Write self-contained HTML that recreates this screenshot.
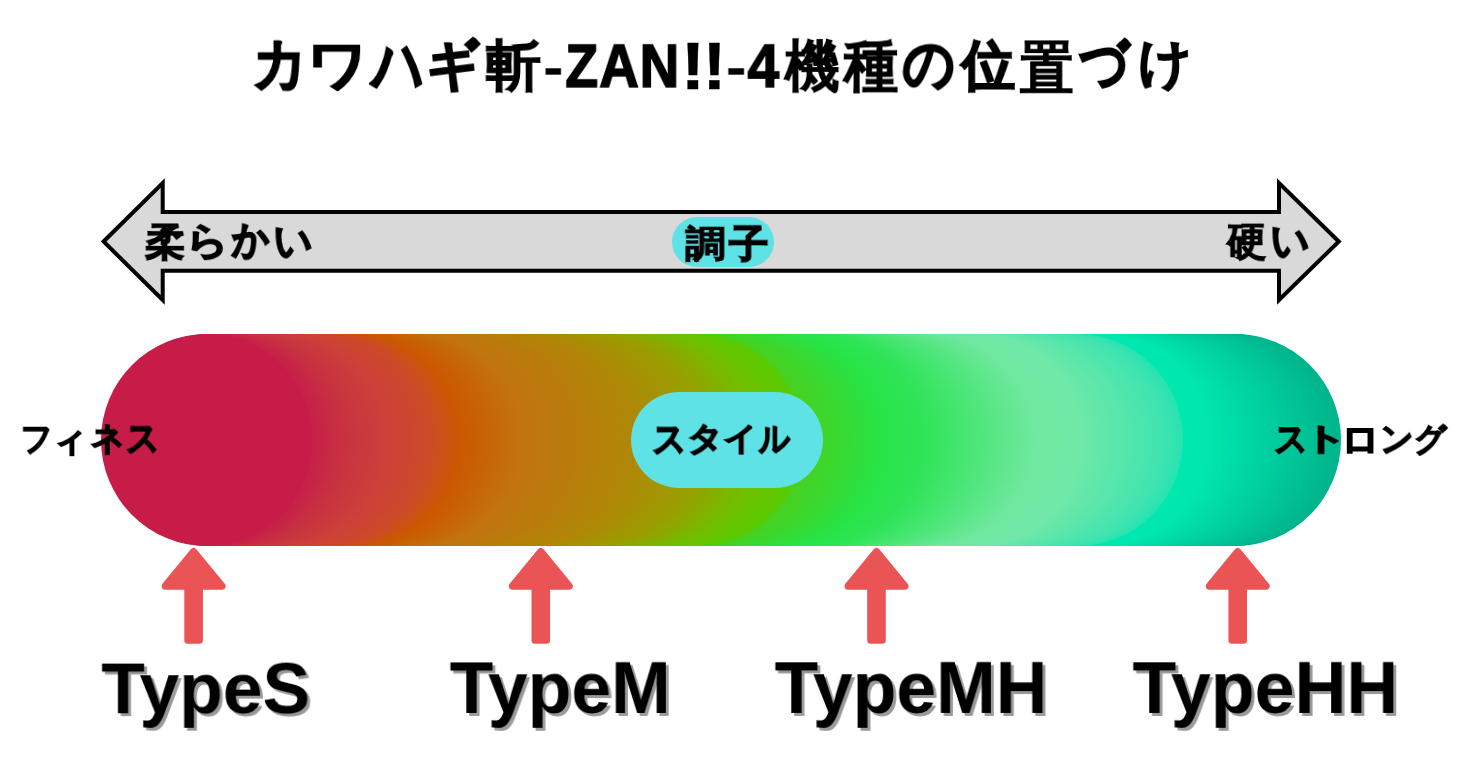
<!DOCTYPE html>
<html lang="ja"><head><meta charset="utf-8">
<style>
html,body{margin:0;padding:0;background:#fff;}
body{width:1475px;height:778px;position:relative;overflow:hidden;font-family:"Liberation Sans",sans-serif;color:#000;}
svg{position:absolute;left:0;top:0;}
.t,.lbl{position:absolute;white-space:nowrap;font-weight:bold;line-height:1;transform-origin:0 0;will-change:transform;}
.k{-webkit-text-stroke:2px #000;}
.k2{-webkit-text-stroke:1.8px #000;}
.k3{-webkit-text-stroke:1.5px #000;}
.kl{-webkit-text-stroke:1.6px #000;}
.lbl{text-shadow:3px 3px 0 #9a9a9a;}
</style></head><body>
<svg width="1475" height="778" viewBox="0 0 1475 778">
<polygon points="103.6,241.5 162.7,183 162.7,212 1279,212 1279,183 1338.8,241.5 1279,300 1279,270.8 162.7,270.8 162.7,300" fill="#d9d9d9" stroke="#000" stroke-width="4" stroke-linejoin="miter" stroke-miterlimit="10"/>
<rect x="672" y="217" width="102" height="50" rx="25" ry="25" fill="#5ee2e6"/>
<g>
<circle cx="1235" cy="440" r="106" fill="#00b48c"/>
<circle cx="1233" cy="440" r="106" fill="#00b58d"/>
<circle cx="1231" cy="440" r="106" fill="#00b68d"/>
<circle cx="1229" cy="440" r="106" fill="#00b68e"/>
<circle cx="1227" cy="440" r="106" fill="#00b78e"/>
<circle cx="1225" cy="440" r="106" fill="#00b88f"/>
<circle cx="1223" cy="440" r="106" fill="#00b98f"/>
<circle cx="1221" cy="440" r="106" fill="#00b990"/>
<circle cx="1219" cy="440" r="106" fill="#00ba90"/>
<circle cx="1217" cy="440" r="106" fill="#00bb91"/>
<circle cx="1215" cy="440" r="106" fill="#00bc91"/>
<circle cx="1213" cy="440" r="106" fill="#00bc92"/>
<circle cx="1211" cy="440" r="106" fill="#00bd92"/>
<circle cx="1209" cy="440" r="106" fill="#00be93"/>
<circle cx="1207" cy="440" r="106" fill="#00bf93"/>
<circle cx="1205" cy="440" r="106" fill="#00c094"/>
<circle cx="1203" cy="440" r="106" fill="#00c095"/>
<circle cx="1201" cy="440" r="106" fill="#00c195"/>
<circle cx="1199" cy="440" r="106" fill="#00c296"/>
<circle cx="1197" cy="440" r="106" fill="#00c396"/>
<circle cx="1195" cy="440" r="106" fill="#00c397"/>
<circle cx="1193" cy="440" r="106" fill="#00c497"/>
<circle cx="1191" cy="440" r="106" fill="#00c598"/>
<circle cx="1189" cy="440" r="106" fill="#00c698"/>
<circle cx="1187" cy="440" r="106" fill="#00c699"/>
<circle cx="1185" cy="440" r="106" fill="#00c799"/>
<circle cx="1183" cy="440" r="106" fill="#00c89a"/>
<circle cx="1181" cy="440" r="106" fill="#00c99a"/>
<circle cx="1179" cy="440" r="106" fill="#00ca9b"/>
<circle cx="1177" cy="440" r="106" fill="#00ca9b"/>
<circle cx="1175" cy="440" r="106" fill="#00cb9c"/>
<circle cx="1173" cy="440" r="106" fill="#00cc9d"/>
<circle cx="1171" cy="440" r="106" fill="#00cd9d"/>
<circle cx="1169" cy="440" r="106" fill="#00cd9e"/>
<circle cx="1167" cy="440" r="106" fill="#00ce9e"/>
<circle cx="1165" cy="440" r="106" fill="#00cf9f"/>
<circle cx="1163" cy="440" r="106" fill="#00d09f"/>
<circle cx="1161" cy="440" r="106" fill="#00d1a0"/>
<circle cx="1159" cy="440" r="106" fill="#00d1a0"/>
<circle cx="1157" cy="440" r="106" fill="#00d2a1"/>
<circle cx="1155" cy="440" r="106" fill="#00d3a1"/>
<circle cx="1153" cy="440" r="106" fill="#00d4a2"/>
<circle cx="1151" cy="440" r="106" fill="#00d4a2"/>
<circle cx="1149" cy="440" r="106" fill="#00d5a3"/>
<circle cx="1147" cy="440" r="106" fill="#00d6a3"/>
<circle cx="1145" cy="440" r="106" fill="#00d7a4"/>
<circle cx="1143" cy="440" r="106" fill="#00d7a5"/>
<circle cx="1141" cy="440" r="106" fill="#00d8a5"/>
<circle cx="1139" cy="440" r="106" fill="#00d9a6"/>
<circle cx="1137" cy="440" r="106" fill="#00daa6"/>
<circle cx="1135" cy="440" r="106" fill="#00dba7"/>
<circle cx="1133" cy="440" r="106" fill="#00dba7"/>
<circle cx="1131" cy="440" r="106" fill="#00dca8"/>
<circle cx="1129" cy="440" r="106" fill="#00dda8"/>
<circle cx="1127" cy="440" r="106" fill="#00dea9"/>
<circle cx="1125" cy="440" r="106" fill="#00dea9"/>
<circle cx="1123" cy="440" r="106" fill="#00dfaa"/>
<circle cx="1121" cy="440" r="106" fill="#00e0aa"/>
<circle cx="1119" cy="440" r="106" fill="#00e1ab"/>
<circle cx="1117" cy="440" r="106" fill="#00e1ab"/>
<circle cx="1115" cy="440" r="106" fill="#00e2ac"/>
<circle cx="1113" cy="440" r="106" fill="#00e3ad"/>
<circle cx="1111" cy="440" r="106" fill="#00e4ad"/>
<circle cx="1109" cy="440" r="106" fill="#00e5ae"/>
<circle cx="1107" cy="440" r="106" fill="#00e5ae"/>
<circle cx="1105" cy="440" r="106" fill="#00e6af"/>
<circle cx="1103" cy="440" r="106" fill="#00e7af"/>
<circle cx="1101" cy="440" r="106" fill="#00e8b0"/>
<circle cx="1099" cy="440" r="106" fill="#00e8b0"/>
<circle cx="1097" cy="440" r="106" fill="#00e8b0"/>
<circle cx="1095" cy="440" r="106" fill="#00e8b0"/>
<circle cx="1093" cy="440" r="106" fill="#00e8b0"/>
<circle cx="1091" cy="440" r="106" fill="#00e8b0"/>
<circle cx="1089" cy="440" r="106" fill="#00e8b0"/>
<circle cx="1087" cy="440" r="106" fill="#00e8b0"/>
<circle cx="1085" cy="440" r="106" fill="#00e8b0"/>
<circle cx="1083" cy="440" r="106" fill="#00e8b0"/>
<circle cx="1081" cy="440" r="106" fill="#00e8b0"/>
<circle cx="1079" cy="440" r="106" fill="#00e8b0"/>
<circle cx="1077" cy="440" r="106" fill="#28e4b0"/>
<circle cx="1075" cy="440" r="106" fill="#2be4b0"/>
<circle cx="1073" cy="440" r="106" fill="#2de4b0"/>
<circle cx="1071" cy="440" r="106" fill="#30e4b0"/>
<circle cx="1069" cy="440" r="106" fill="#32e4b0"/>
<circle cx="1067" cy="440" r="106" fill="#35e4b0"/>
<circle cx="1065" cy="440" r="106" fill="#37e4b0"/>
<circle cx="1063" cy="440" r="106" fill="#3ae4b0"/>
<circle cx="1061" cy="440" r="106" fill="#3ce4b0"/>
<circle cx="1059" cy="440" r="106" fill="#3fe4b0"/>
<circle cx="1057" cy="440" r="106" fill="#41e4b0"/>
<circle cx="1055" cy="440" r="106" fill="#42e4b0"/>
<circle cx="1053" cy="440" r="106" fill="#43e4b0"/>
<circle cx="1051" cy="440" r="106" fill="#44e4af"/>
<circle cx="1049" cy="440" r="106" fill="#45e4af"/>
<circle cx="1047" cy="440" r="106" fill="#46e5af"/>
<circle cx="1045" cy="440" r="106" fill="#48e5af"/>
<circle cx="1043" cy="440" r="106" fill="#49e5af"/>
<circle cx="1041" cy="440" r="106" fill="#4ae5ae"/>
<circle cx="1039" cy="440" r="106" fill="#4be5ae"/>
<circle cx="1037" cy="440" r="106" fill="#4ce5ae"/>
<circle cx="1035" cy="440" r="106" fill="#4de5ae"/>
<circle cx="1033" cy="440" r="106" fill="#4ee5ae"/>
<circle cx="1031" cy="440" r="106" fill="#50e5ad"/>
<circle cx="1029" cy="440" r="106" fill="#51e5ad"/>
<circle cx="1027" cy="440" r="106" fill="#52e5ad"/>
<circle cx="1025" cy="440" r="106" fill="#53e6ad"/>
<circle cx="1023" cy="440" r="106" fill="#54e6ad"/>
<circle cx="1021" cy="440" r="106" fill="#55e6ac"/>
<circle cx="1019" cy="440" r="106" fill="#57e6ac"/>
<circle cx="1017" cy="440" r="106" fill="#58e6ac"/>
<circle cx="1015" cy="440" r="106" fill="#59e6ac"/>
<circle cx="1013" cy="440" r="106" fill="#5ae6ac"/>
<circle cx="1011" cy="440" r="106" fill="#5be6ab"/>
<circle cx="1009" cy="440" r="106" fill="#5ce6ab"/>
<circle cx="1007" cy="440" r="106" fill="#5de6ab"/>
<circle cx="1005" cy="440" r="106" fill="#5fe7ab"/>
<circle cx="1003" cy="440" r="106" fill="#60e7ab"/>
<circle cx="1001" cy="440" r="106" fill="#61e7ab"/>
<circle cx="999" cy="440" r="106" fill="#62e7aa"/>
<circle cx="997" cy="440" r="106" fill="#63e7aa"/>
<circle cx="995" cy="440" r="106" fill="#64e7aa"/>
<circle cx="993" cy="440" r="106" fill="#66e7aa"/>
<circle cx="991" cy="440" r="106" fill="#67e7aa"/>
<circle cx="989" cy="440" r="106" fill="#68e7a9"/>
<circle cx="987" cy="440" r="106" fill="#69e7a9"/>
<circle cx="985" cy="440" r="106" fill="#6ae8a9"/>
<circle cx="983" cy="440" r="106" fill="#6be8a9"/>
<circle cx="981" cy="440" r="106" fill="#6de8a9"/>
<circle cx="979" cy="440" r="106" fill="#6ee8a8"/>
<circle cx="977" cy="440" r="106" fill="#6fe8a8"/>
<circle cx="975" cy="440" r="106" fill="#70e8a8"/>
<circle cx="973" cy="440" r="106" fill="#70e8a8"/>
<circle cx="971" cy="440" r="106" fill="#70e8a7"/>
<circle cx="969" cy="440" r="106" fill="#70e8a7"/>
<circle cx="967" cy="440" r="106" fill="#70e8a7"/>
<circle cx="965" cy="440" r="106" fill="#70e8a6"/>
<circle cx="963" cy="440" r="106" fill="#70e8a6"/>
<circle cx="961" cy="440" r="106" fill="#70e8a6"/>
<circle cx="959" cy="440" r="106" fill="#70e8a5"/>
<circle cx="957" cy="440" r="106" fill="#70e8a5"/>
<circle cx="955" cy="440" r="106" fill="#70e8a4"/>
<circle cx="953" cy="440" r="106" fill="#70e8a4"/>
<circle cx="951" cy="440" r="106" fill="#70e8a4"/>
<circle cx="949" cy="440" r="106" fill="#70e8a3"/>
<circle cx="947" cy="440" r="106" fill="#70e8a3"/>
<circle cx="945" cy="440" r="106" fill="#70e8a3"/>
<circle cx="943" cy="440" r="106" fill="#70e8a2"/>
<circle cx="941" cy="440" r="106" fill="#70e8a2"/>
<circle cx="939" cy="440" r="106" fill="#70e8a2"/>
<circle cx="937" cy="440" r="106" fill="#70e8a1"/>
<circle cx="935" cy="440" r="106" fill="#70e8a1"/>
<circle cx="933" cy="440" r="106" fill="#70e8a1"/>
<circle cx="931" cy="440" r="106" fill="#70e8a0"/>
<circle cx="929" cy="440" r="106" fill="#6fe89f"/>
<circle cx="927" cy="440" r="106" fill="#6ee89e"/>
<circle cx="925" cy="440" r="106" fill="#6de89d"/>
<circle cx="923" cy="440" r="106" fill="#6ce89b"/>
<circle cx="921" cy="440" r="106" fill="#6be89a"/>
<circle cx="919" cy="440" r="106" fill="#6ae899"/>
<circle cx="917" cy="440" r="106" fill="#68e897"/>
<circle cx="915" cy="440" r="106" fill="#67e796"/>
<circle cx="913" cy="440" r="106" fill="#66e795"/>
<circle cx="911" cy="440" r="106" fill="#65e794"/>
<circle cx="909" cy="440" r="106" fill="#64e792"/>
<circle cx="907" cy="440" r="106" fill="#63e791"/>
<circle cx="905" cy="440" r="106" fill="#61e790"/>
<circle cx="903" cy="440" r="106" fill="#60e78e"/>
<circle cx="901" cy="440" r="106" fill="#5fe78d"/>
<circle cx="899" cy="440" r="106" fill="#5ee78c"/>
<circle cx="897" cy="440" r="106" fill="#5de78a"/>
<circle cx="895" cy="440" r="106" fill="#5ce789"/>
<circle cx="893" cy="440" r="106" fill="#5ae788"/>
<circle cx="891" cy="440" r="106" fill="#59e786"/>
<circle cx="889" cy="440" r="106" fill="#58e785"/>
<circle cx="887" cy="440" r="106" fill="#57e684"/>
<circle cx="885" cy="440" r="106" fill="#56e683"/>
<circle cx="883" cy="440" r="106" fill="#55e681"/>
<circle cx="881" cy="440" r="106" fill="#53e680"/>
<circle cx="879" cy="440" r="106" fill="#52e67f"/>
<circle cx="877" cy="440" r="106" fill="#51e67d"/>
<circle cx="875" cy="440" r="106" fill="#50e67c"/>
<circle cx="873" cy="440" r="106" fill="#4fe67b"/>
<circle cx="871" cy="440" r="106" fill="#4ee679"/>
<circle cx="869" cy="440" r="106" fill="#4de678"/>
<circle cx="867" cy="440" r="106" fill="#4be677"/>
<circle cx="865" cy="440" r="106" fill="#4ae675"/>
<circle cx="863" cy="440" r="106" fill="#49e674"/>
<circle cx="861" cy="440" r="106" fill="#48e573"/>
<circle cx="859" cy="440" r="106" fill="#47e572"/>
<circle cx="857" cy="440" r="106" fill="#46e570"/>
<circle cx="855" cy="440" r="106" fill="#44e56f"/>
<circle cx="853" cy="440" r="106" fill="#43e56e"/>
<circle cx="851" cy="440" r="106" fill="#42e56c"/>
<circle cx="849" cy="440" r="106" fill="#41e56b"/>
<circle cx="847" cy="440" r="106" fill="#40e56a"/>
<circle cx="845" cy="440" r="106" fill="#3fe568"/>
<circle cx="843" cy="440" r="106" fill="#3de567"/>
<circle cx="841" cy="440" r="106" fill="#3ce566"/>
<circle cx="839" cy="440" r="106" fill="#3be564"/>
<circle cx="837" cy="440" r="106" fill="#3ae563"/>
<circle cx="835" cy="440" r="106" fill="#39e562"/>
<circle cx="833" cy="440" r="106" fill="#38e461"/>
<circle cx="831" cy="440" r="106" fill="#36e45f"/>
<circle cx="829" cy="440" r="106" fill="#35e45e"/>
<circle cx="827" cy="440" r="106" fill="#34e45d"/>
<circle cx="825" cy="440" r="106" fill="#33e45b"/>
<circle cx="823" cy="440" r="106" fill="#32e45a"/>
<circle cx="821" cy="440" r="106" fill="#31e459"/>
<circle cx="819" cy="440" r="106" fill="#30e458"/>
<circle cx="817" cy="440" r="106" fill="#2fe457"/>
<circle cx="815" cy="440" r="106" fill="#2fe456"/>
<circle cx="813" cy="440" r="106" fill="#2fe455"/>
<circle cx="811" cy="440" r="106" fill="#2ee455"/>
<circle cx="809" cy="440" r="106" fill="#2ee454"/>
<circle cx="807" cy="440" r="106" fill="#2ee453"/>
<circle cx="805" cy="440" r="106" fill="#2de452"/>
<circle cx="803" cy="440" r="106" fill="#2de452"/>
<circle cx="801" cy="440" r="106" fill="#2ce451"/>
<circle cx="799" cy="440" r="106" fill="#2ce450"/>
<circle cx="797" cy="440" r="106" fill="#2ce44f"/>
<circle cx="795" cy="440" r="106" fill="#2be44e"/>
<circle cx="793" cy="440" r="106" fill="#2be44e"/>
<circle cx="791" cy="440" r="106" fill="#2ae44d"/>
<circle cx="789" cy="440" r="106" fill="#2ae44c"/>
<circle cx="787" cy="440" r="106" fill="#2ae44b"/>
<circle cx="785" cy="440" r="106" fill="#29e44b"/>
<circle cx="783" cy="440" r="106" fill="#29e44a"/>
<circle cx="781" cy="440" r="106" fill="#29e449"/>
<circle cx="779" cy="440" r="106" fill="#28e448"/>
<circle cx="777" cy="440" r="106" fill="#28e447"/>
<circle cx="775" cy="440" r="106" fill="#29e346"/>
<circle cx="773" cy="440" r="106" fill="#2ae345"/>
<circle cx="771" cy="440" r="106" fill="#2be244"/>
<circle cx="769" cy="440" r="106" fill="#2ce243"/>
<circle cx="767" cy="440" r="106" fill="#2ce142"/>
<circle cx="765" cy="440" r="106" fill="#2de141"/>
<circle cx="763" cy="440" r="106" fill="#2ee040"/>
<circle cx="761" cy="440" r="106" fill="#2fe03f"/>
<circle cx="759" cy="440" r="106" fill="#30df3e"/>
<circle cx="757" cy="440" r="106" fill="#31df3d"/>
<circle cx="755" cy="440" r="106" fill="#31de3c"/>
<circle cx="753" cy="440" r="106" fill="#32de3b"/>
<circle cx="751" cy="440" r="106" fill="#33dd3a"/>
<circle cx="749" cy="440" r="106" fill="#34dd39"/>
<circle cx="747" cy="440" r="106" fill="#35dc38"/>
<circle cx="745" cy="440" r="106" fill="#35dc37"/>
<circle cx="743" cy="440" r="106" fill="#36db36"/>
<circle cx="741" cy="440" r="106" fill="#37db35"/>
<circle cx="739" cy="440" r="106" fill="#38da34"/>
<circle cx="737" cy="440" r="106" fill="#39da33"/>
<circle cx="735" cy="440" r="106" fill="#39d932"/>
<circle cx="733" cy="440" r="106" fill="#3ad931"/>
<circle cx="731" cy="440" r="106" fill="#3bd830"/>
<circle cx="729" cy="440" r="106" fill="#3cd82f"/>
<circle cx="727" cy="440" r="106" fill="#3dd72e"/>
<circle cx="725" cy="440" r="106" fill="#3dd72d"/>
<circle cx="723" cy="440" r="106" fill="#3ed62c"/>
<circle cx="721" cy="440" r="106" fill="#3fd62b"/>
<circle cx="719" cy="440" r="106" fill="#40d52a"/>
<circle cx="717" cy="440" r="106" fill="#41d529"/>
<circle cx="715" cy="440" r="106" fill="#42d428"/>
<circle cx="713" cy="440" r="106" fill="#42d427"/>
<circle cx="711" cy="440" r="106" fill="#43d326"/>
<circle cx="709" cy="440" r="106" fill="#44d325"/>
<circle cx="707" cy="440" r="106" fill="#45d224"/>
<circle cx="705" cy="440" r="106" fill="#46d223"/>
<circle cx="703" cy="440" r="106" fill="#46d122"/>
<circle cx="701" cy="440" r="106" fill="#47d121"/>
<circle cx="699" cy="440" r="106" fill="#48d020"/>
<circle cx="697" cy="440" r="106" fill="#59cc00"/>
<circle cx="695" cy="440" r="106" fill="#5acb00"/>
<circle cx="693" cy="440" r="106" fill="#5bcb00"/>
<circle cx="691" cy="440" r="106" fill="#5cca00"/>
<circle cx="689" cy="440" r="106" fill="#5dca00"/>
<circle cx="687" cy="440" r="106" fill="#5ec900"/>
<circle cx="685" cy="440" r="106" fill="#5fc900"/>
<circle cx="683" cy="440" r="106" fill="#60c800"/>
<circle cx="681" cy="440" r="106" fill="#61c700"/>
<circle cx="679" cy="440" r="106" fill="#62c700"/>
<circle cx="677" cy="440" r="106" fill="#63c600"/>
<circle cx="675" cy="440" r="106" fill="#64c600"/>
<circle cx="673" cy="440" r="106" fill="#65c500"/>
<circle cx="671" cy="440" r="106" fill="#66c500"/>
<circle cx="669" cy="440" r="106" fill="#67c400"/>
<circle cx="667" cy="440" r="106" fill="#69c400"/>
<circle cx="665" cy="440" r="106" fill="#6ac300"/>
<circle cx="663" cy="440" r="106" fill="#6bc300"/>
<circle cx="661" cy="440" r="106" fill="#6cc200"/>
<circle cx="659" cy="440" r="106" fill="#6dc200"/>
<circle cx="657" cy="440" r="106" fill="#6ec100"/>
<circle cx="655" cy="440" r="106" fill="#6fc100"/>
<circle cx="653" cy="440" r="106" fill="#70c000"/>
<circle cx="651" cy="440" r="106" fill="#71bf00"/>
<circle cx="649" cy="440" r="106" fill="#73be00"/>
<circle cx="647" cy="440" r="106" fill="#74bd00"/>
<circle cx="645" cy="440" r="106" fill="#76bb00"/>
<circle cx="643" cy="440" r="106" fill="#77ba00"/>
<circle cx="641" cy="440" r="106" fill="#79b900"/>
<circle cx="639" cy="440" r="106" fill="#7ab800"/>
<circle cx="637" cy="440" r="106" fill="#7bb700"/>
<circle cx="635" cy="440" r="106" fill="#7db600"/>
<circle cx="633" cy="440" r="106" fill="#7eb500"/>
<circle cx="631" cy="440" r="106" fill="#80b300"/>
<circle cx="629" cy="440" r="106" fill="#81b200"/>
<circle cx="627" cy="440" r="106" fill="#83b100"/>
<circle cx="625" cy="440" r="106" fill="#84b000"/>
<circle cx="623" cy="440" r="106" fill="#85af00"/>
<circle cx="621" cy="440" r="106" fill="#87ae00"/>
<circle cx="619" cy="440" r="106" fill="#88ad00"/>
<circle cx="617" cy="440" r="106" fill="#8aab00"/>
<circle cx="615" cy="440" r="106" fill="#8baa00"/>
<circle cx="613" cy="440" r="106" fill="#8da900"/>
<circle cx="611" cy="440" r="106" fill="#8ea800"/>
<circle cx="609" cy="440" r="106" fill="#8fa700"/>
<circle cx="607" cy="440" r="106" fill="#91a600"/>
<circle cx="605" cy="440" r="106" fill="#92a500"/>
<circle cx="603" cy="440" r="106" fill="#94a300"/>
<circle cx="601" cy="440" r="106" fill="#95a200"/>
<circle cx="599" cy="440" r="106" fill="#97a100"/>
<circle cx="597" cy="440" r="106" fill="#98a000"/>
<circle cx="595" cy="440" r="106" fill="#999f00"/>
<circle cx="593" cy="440" r="106" fill="#999f00"/>
<circle cx="591" cy="440" r="106" fill="#9a9e01"/>
<circle cx="589" cy="440" r="106" fill="#9b9d01"/>
<circle cx="587" cy="440" r="106" fill="#9c9c01"/>
<circle cx="585" cy="440" r="106" fill="#9c9c01"/>
<circle cx="583" cy="440" r="106" fill="#9d9b02"/>
<circle cx="581" cy="440" r="106" fill="#9e9a02"/>
<circle cx="579" cy="440" r="106" fill="#9e9a02"/>
<circle cx="577" cy="440" r="106" fill="#9f9902"/>
<circle cx="575" cy="440" r="106" fill="#a09803"/>
<circle cx="573" cy="440" r="106" fill="#a19703"/>
<circle cx="571" cy="440" r="106" fill="#a19703"/>
<circle cx="569" cy="440" r="106" fill="#a29603"/>
<circle cx="567" cy="440" r="106" fill="#a39504"/>
<circle cx="565" cy="440" r="106" fill="#a39504"/>
<circle cx="563" cy="440" r="106" fill="#a49404"/>
<circle cx="561" cy="440" r="106" fill="#a59304"/>
<circle cx="559" cy="440" r="106" fill="#a69205"/>
<circle cx="557" cy="440" r="106" fill="#a69205"/>
<circle cx="555" cy="440" r="106" fill="#a79105"/>
<circle cx="553" cy="440" r="106" fill="#a89005"/>
<circle cx="551" cy="440" r="106" fill="#a89005"/>
<circle cx="549" cy="440" r="106" fill="#a98f06"/>
<circle cx="547" cy="440" r="106" fill="#aa8e06"/>
<circle cx="545" cy="440" r="106" fill="#ab8d06"/>
<circle cx="543" cy="440" r="106" fill="#ab8d06"/>
<circle cx="541" cy="440" r="106" fill="#ac8c07"/>
<circle cx="539" cy="440" r="106" fill="#ad8b07"/>
<circle cx="537" cy="440" r="106" fill="#ad8b07"/>
<circle cx="535" cy="440" r="106" fill="#ae8a07"/>
<circle cx="533" cy="440" r="106" fill="#af8908"/>
<circle cx="531" cy="440" r="106" fill="#b08808"/>
<circle cx="529" cy="440" r="106" fill="#b08808"/>
<circle cx="527" cy="440" r="106" fill="#b08708"/>
<circle cx="525" cy="440" r="106" fill="#b18708"/>
<circle cx="523" cy="440" r="106" fill="#b18708"/>
<circle cx="521" cy="440" r="106" fill="#b18609"/>
<circle cx="519" cy="440" r="106" fill="#b28609"/>
<circle cx="517" cy="440" r="106" fill="#b28609"/>
<circle cx="515" cy="440" r="106" fill="#b28509"/>
<circle cx="513" cy="440" r="106" fill="#b38509"/>
<circle cx="511" cy="440" r="106" fill="#b38509"/>
<circle cx="509" cy="440" r="106" fill="#b3840a"/>
<circle cx="507" cy="440" r="106" fill="#b4840a"/>
<circle cx="505" cy="440" r="106" fill="#b4840a"/>
<circle cx="503" cy="440" r="106" fill="#b4830a"/>
<circle cx="501" cy="440" r="106" fill="#b5830a"/>
<circle cx="499" cy="440" r="106" fill="#b5820a"/>
<circle cx="497" cy="440" r="106" fill="#b5820a"/>
<circle cx="495" cy="440" r="106" fill="#b6820a"/>
<circle cx="493" cy="440" r="106" fill="#b6810b"/>
<circle cx="491" cy="440" r="106" fill="#b6810b"/>
<circle cx="489" cy="440" r="106" fill="#b7810b"/>
<circle cx="487" cy="440" r="106" fill="#b7800b"/>
<circle cx="485" cy="440" r="106" fill="#b7800b"/>
<circle cx="483" cy="440" r="106" fill="#b8800b"/>
<circle cx="481" cy="440" r="106" fill="#b87f0c"/>
<circle cx="479" cy="440" r="106" fill="#b87f0c"/>
<circle cx="477" cy="440" r="106" fill="#b97f0c"/>
<circle cx="475" cy="440" r="106" fill="#b97e0c"/>
<circle cx="473" cy="440" r="106" fill="#b97e0c"/>
<circle cx="471" cy="440" r="106" fill="#b97d0c"/>
<circle cx="469" cy="440" r="106" fill="#ba7d0c"/>
<circle cx="467" cy="440" r="106" fill="#ba7d0c"/>
<circle cx="465" cy="440" r="106" fill="#ba7c0d"/>
<circle cx="463" cy="440" r="106" fill="#bb7c0d"/>
<circle cx="461" cy="440" r="106" fill="#bb7c0d"/>
<circle cx="459" cy="440" r="106" fill="#bb7b0d"/>
<circle cx="457" cy="440" r="106" fill="#bc7b0d"/>
<circle cx="455" cy="440" r="106" fill="#bc7b0d"/>
<circle cx="453" cy="440" r="106" fill="#bc7a0e"/>
<circle cx="451" cy="440" r="106" fill="#bd7a0e"/>
<circle cx="449" cy="440" r="106" fill="#bd7a0e"/>
<circle cx="447" cy="440" r="106" fill="#bd790e"/>
<circle cx="445" cy="440" r="106" fill="#be790e"/>
<circle cx="443" cy="440" r="106" fill="#be780e"/>
<circle cx="441" cy="440" r="106" fill="#be780e"/>
<circle cx="439" cy="440" r="106" fill="#bf780e"/>
<circle cx="437" cy="440" r="106" fill="#bf770f"/>
<circle cx="435" cy="440" r="106" fill="#bf770f"/>
<circle cx="433" cy="440" r="106" fill="#c0770f"/>
<circle cx="431" cy="440" r="106" fill="#c0760f"/>
<circle cx="429" cy="440" r="106" fill="#c0760f"/>
<circle cx="427" cy="440" r="106" fill="#c1760f"/>
<circle cx="425" cy="440" r="106" fill="#c17510"/>
<circle cx="423" cy="440" r="106" fill="#c17510"/>
<circle cx="421" cy="440" r="106" fill="#c27510"/>
<circle cx="419" cy="440" r="106" fill="#c27410"/>
<circle cx="417" cy="440" r="106" fill="#c27410"/>
<circle cx="415" cy="440" r="106" fill="#c2730f"/>
<circle cx="413" cy="440" r="106" fill="#c3720f"/>
<circle cx="411" cy="440" r="106" fill="#c3710e"/>
<circle cx="409" cy="440" r="106" fill="#c3700e"/>
<circle cx="407" cy="440" r="106" fill="#c46f0d"/>
<circle cx="405" cy="440" r="106" fill="#c46e0d"/>
<circle cx="403" cy="440" r="106" fill="#c46d0c"/>
<circle cx="401" cy="440" r="106" fill="#c56c0c"/>
<circle cx="399" cy="440" r="106" fill="#c56c0b"/>
<circle cx="397" cy="440" r="106" fill="#c56b0b"/>
<circle cx="395" cy="440" r="106" fill="#c66a0a"/>
<circle cx="393" cy="440" r="106" fill="#c6690a"/>
<circle cx="391" cy="440" r="106" fill="#c66809"/>
<circle cx="389" cy="440" r="106" fill="#c76709"/>
<circle cx="387" cy="440" r="106" fill="#c76608"/>
<circle cx="385" cy="440" r="106" fill="#c76508"/>
<circle cx="383" cy="440" r="106" fill="#c86407"/>
<circle cx="381" cy="440" r="106" fill="#c86407"/>
<circle cx="379" cy="440" r="106" fill="#c86306"/>
<circle cx="377" cy="440" r="106" fill="#c96206"/>
<circle cx="375" cy="440" r="106" fill="#c96105"/>
<circle cx="373" cy="440" r="106" fill="#c96005"/>
<circle cx="371" cy="440" r="106" fill="#c95f04"/>
<circle cx="369" cy="440" r="106" fill="#ca5e04"/>
<circle cx="367" cy="440" r="106" fill="#ca5d03"/>
<circle cx="365" cy="440" r="106" fill="#ca5c03"/>
<circle cx="363" cy="440" r="106" fill="#cb5c02"/>
<circle cx="361" cy="440" r="106" fill="#cb5b02"/>
<circle cx="359" cy="440" r="106" fill="#cb5a01"/>
<circle cx="357" cy="440" r="106" fill="#cc5901"/>
<circle cx="355" cy="440" r="106" fill="#cc5800"/>
<circle cx="353" cy="440" r="106" fill="#cc5703"/>
<circle cx="351" cy="440" r="106" fill="#cc5606"/>
<circle cx="349" cy="440" r="106" fill="#cc5608"/>
<circle cx="347" cy="440" r="106" fill="#cc550b"/>
<circle cx="345" cy="440" r="106" fill="#cc540e"/>
<circle cx="343" cy="440" r="106" fill="#cc5311"/>
<circle cx="341" cy="440" r="106" fill="#cc5213"/>
<circle cx="339" cy="440" r="106" fill="#cc5116"/>
<circle cx="337" cy="440" r="106" fill="#cc5119"/>
<circle cx="335" cy="440" r="106" fill="#cc501c"/>
<circle cx="333" cy="440" r="106" fill="#cc4f1e"/>
<circle cx="331" cy="440" r="106" fill="#cc4e21"/>
<circle cx="329" cy="440" r="106" fill="#cc4d24"/>
<circle cx="327" cy="440" r="106" fill="#cc4c27"/>
<circle cx="325" cy="440" r="106" fill="#cc4c28"/>
<circle cx="323" cy="440" r="106" fill="#cc4b29"/>
<circle cx="321" cy="440" r="106" fill="#cc4b2a"/>
<circle cx="319" cy="440" r="106" fill="#cc4a2b"/>
<circle cx="317" cy="440" r="106" fill="#cc4a2c"/>
<circle cx="315" cy="440" r="106" fill="#cc492d"/>
<circle cx="313" cy="440" r="106" fill="#cc492e"/>
<circle cx="311" cy="440" r="106" fill="#cc482f"/>
<circle cx="309" cy="440" r="106" fill="#cc482f"/>
<circle cx="307" cy="440" r="106" fill="#cc4730"/>
<circle cx="305" cy="440" r="106" fill="#cc4731"/>
<circle cx="303" cy="440" r="106" fill="#cc4632"/>
<circle cx="301" cy="440" r="106" fill="#cc4633"/>
<circle cx="299" cy="440" r="106" fill="#cc4534"/>
<circle cx="297" cy="440" r="106" fill="#cc4535"/>
<circle cx="295" cy="440" r="106" fill="#cc4436"/>
<circle cx="293" cy="440" r="106" fill="#cc4436"/>
<circle cx="291" cy="440" r="106" fill="#cc4337"/>
<circle cx="289" cy="440" r="106" fill="#cc4338"/>
<circle cx="287" cy="440" r="106" fill="#cc4239"/>
<circle cx="285" cy="440" r="106" fill="#cc423a"/>
<circle cx="283" cy="440" r="106" fill="#cc413a"/>
<circle cx="281" cy="440" r="106" fill="#cc413b"/>
<circle cx="279" cy="440" r="106" fill="#cb403b"/>
<circle cx="277" cy="440" r="106" fill="#cb3f3b"/>
<circle cx="275" cy="440" r="106" fill="#cb3f3b"/>
<circle cx="273" cy="440" r="106" fill="#cb3e3c"/>
<circle cx="271" cy="440" r="106" fill="#cb3d3c"/>
<circle cx="269" cy="440" r="106" fill="#cb3d3c"/>
<circle cx="267" cy="440" r="106" fill="#ca3c3d"/>
<circle cx="265" cy="440" r="106" fill="#ca3b3d"/>
<circle cx="263" cy="440" r="106" fill="#ca3b3d"/>
<circle cx="261" cy="440" r="106" fill="#ca3a3d"/>
<circle cx="259" cy="440" r="106" fill="#ca3a3e"/>
<circle cx="257" cy="440" r="106" fill="#c9393e"/>
<circle cx="255" cy="440" r="106" fill="#c9383e"/>
<circle cx="253" cy="440" r="106" fill="#c9383e"/>
<circle cx="251" cy="440" r="106" fill="#c9373f"/>
<circle cx="249" cy="440" r="106" fill="#c9363f"/>
<circle cx="247" cy="440" r="106" fill="#c8363f"/>
<circle cx="245" cy="440" r="106" fill="#c83540"/>
<circle cx="243" cy="440" r="106" fill="#c83440"/>
<circle cx="241" cy="440" r="106" fill="#c83340"/>
<circle cx="239" cy="440" r="106" fill="#c83241"/>
<circle cx="237" cy="440" r="106" fill="#c83141"/>
<circle cx="235" cy="440" r="106" fill="#c83042"/>
<circle cx="233" cy="440" r="106" fill="#c82f43"/>
<circle cx="231" cy="440" r="106" fill="#c82e43"/>
<circle cx="229" cy="440" r="106" fill="#c82c44"/>
<circle cx="227" cy="440" r="106" fill="#c82b44"/>
<circle cx="225" cy="440" r="106" fill="#c82a45"/>
<circle cx="223" cy="440" r="106" fill="#c82946"/>
<circle cx="221" cy="440" r="106" fill="#c82846"/>
<circle cx="219" cy="440" r="106" fill="#c82647"/>
<circle cx="217" cy="440" r="106" fill="#c82547"/>
<circle cx="215" cy="440" r="106" fill="#c82448"/>
<circle cx="213" cy="440" r="106" fill="#c82349"/>
<circle cx="211" cy="440" r="106" fill="#c82249"/>
<circle cx="209" cy="440" r="106" fill="#c8214a"/>
<circle cx="207" cy="440" r="106" fill="#c81c48"/>
</g>
<rect x="631" y="392" width="192" height="96" rx="48" ry="48" fill="#5ee2e6"/>
<g fill="#ea5455">
<path d="M193.60,551.66 L221.97,586.10 L199.30,586.10 L199.30,640.20 L187.90,640.20 L187.90,586.10 L165.23,586.10 Z" stroke="#ea5455" stroke-width="7.2" stroke-linejoin="round"/>
<path d="M540.80,551.66 L569.17,586.10 L546.50,586.10 L546.50,640.20 L535.10,640.20 L535.10,586.10 L512.43,586.10 Z" stroke="#ea5455" stroke-width="7.2" stroke-linejoin="round"/>
<path d="M876.50,551.66 L904.87,586.10 L882.20,586.10 L882.20,640.20 L870.80,640.20 L870.80,586.10 L848.13,586.10 Z" stroke="#ea5455" stroke-width="7.2" stroke-linejoin="round"/>
<path d="M1237.70,551.66 L1266.07,586.10 L1243.40,586.10 L1243.40,640.20 L1232.00,640.20 L1232.00,586.10 L1209.33,586.10 Z" stroke="#ea5455" stroke-width="7.2" stroke-linejoin="round"/>
</g>
</svg>
<div class="t k" id="g0" style="left:253px;top:34px;font-size:58px;transform:translate(-0.42px,-0.40px) scale(0.9240,1.0143);">カ</div>
<div class="t k" id="g1" style="left:313px;top:38px;font-size:58px;transform:translate(-5.93px,-0.63px) scale(1.0378,0.9408);">ワ</div>
<div class="t k" id="g2" style="left:368px;top:39px;font-size:58px;transform:translate(4.38px,-10.01px) scale(0.8705,1.1861);">ハ</div>
<div class="t k" id="g3" style="left:429px;top:31px;font-size:58px;transform:translate(-2.53px,6.10px) scale(0.9088,0.9390);">ギ</div>
<div class="t k" id="g4" style="left:485px;top:32px;font-size:58px;-webkit-text-stroke-width:1.2px;transform:translate(0.30px,6.30px) scale(0.9632,0.9466);">斬</div>
<div class="t k" id="g5" style="left:782px;top:31px;font-size:58px;-webkit-text-stroke-width:0.6px;transform:translate(2.81px,6.90px) scale(0.9525,0.9702);">機</div>
<div class="t k" id="g6" style="left:841px;top:32px;font-size:58px;-webkit-text-stroke-width:0.8px;transform:translate(2.77px,3.46px) scale(0.9339,1.0130);">種</div>
<div class="t k" id="g7" style="left:902px;top:38px;font-size:58px;transform:translate(0.50px,-3.60px) scale(0.8895,1.0000);">の</div>
<div class="t k" id="g8" style="left:958px;top:32px;font-size:58px;transform:translate(3.56px,6.30px) scale(0.9197,0.9305);">位</div>
<div class="t k" id="g9" style="left:1019px;top:34px;font-size:58px;-webkit-text-stroke-width:0.6px;transform:translate(0.90px,5.42px) scale(0.9246,0.9778);">置</div>
<div class="t k" id="g10" style="left:1078px;top:31px;font-size:58px;transform:translate(1.78px,2.88px) scale(0.8422,1.0059);">づ</div>
<div class="t k" id="g11" style="left:1139px;top:35px;font-size:58px;transform:translate(-0.92px,1.74px) scale(0.9094,0.8912);">け</div>
<div class="t k2" id="g12" style="left:144px;top:216px;font-size:42px;transform:translate(1.54px,7.78px) scale(0.9429,0.8818);">柔</div>
<div class="t k2" id="g13" style="left:191px;top:217px;font-size:42px;transform:translate(-5.12px,4.98px) scale(1.0032,0.9100);">ら</div>
<div class="t k2" id="g14" style="left:230px;top:217px;font-size:42px;transform:translate(1.78px,2.71px) scale(0.8795,0.9474);">か</div>
<div class="t k2" id="g15" style="left:275px;top:221px;font-size:42px;transform:translate(-1.32px,-0.69px) scale(0.9077,0.9844);">い</div>
<div class="t k2" id="g16" style="left:1226px;top:217px;font-size:42px;-webkit-text-stroke-width:1.0px;transform:translate(0.94px,5.67px) scale(0.9419,0.9268);">硬</div>
<div class="t k2" id="g17" style="left:1272px;top:220px;font-size:42px;transform:translate(-1.42px,-0.03px) scale(0.9077,0.9906);">い</div>
<div class="t k2" id="g18" style="left:685px;top:218px;font-size:42px;-webkit-text-stroke-width:1.0px;transform:translate(0.30px,7.76px) scale(0.9625,0.8795);">調</div>
<div class="t k2" id="g19" style="left:728px;top:218px;font-size:42px;transform:translate(1.23px,6.70px) scale(0.9286,0.9268);">子</div>
<div class="t k3" id="g20" style="left:653px;top:420px;font-size:35px;transform:translate(-0.55px,-0.55px) scale(0.9484,1.0500);">ス</div>
<div class="t k3" id="g21" style="left:688px;top:417px;font-size:35px;transform:translate(-0.71px,4.75px) scale(1.0069,0.9265);">タ</div>
<div class="t k3" id="g22" style="left:723px;top:418px;font-size:35px;transform:translate(0.30px,3.97px) scale(0.9567,0.9091);">イ</div>
<div class="t k3" id="g23" style="left:758px;top:419px;font-size:35px;transform:translate(0.88px,1.47px) scale(0.8784,1.0069);">ル</div>
<div class="t k3" id="g24" style="left:22px;top:421px;font-size:35px;transform:translate(-1.19px,0.31px) scale(0.8933,0.9483);">フ</div>
<div class="t k3" id="g25" style="left:57px;top:424px;font-size:35px;transform:translate(-4.74px,-0.73px) scale(0.9880,0.9407);">ィ</div>
<div class="t k3" id="g26" style="left:91px;top:418px;font-size:35px;transform:translate(0.10px,3.16px) scale(0.9303,0.9455);">ネ</div>
<div class="t k3" id="g27" style="left:126px;top:421px;font-size:35px;transform:translate(-0.04px,-1.32px) scale(0.9355,1.0462);">ス</div>
<div class="t k3" id="g28" style="left:1275px;top:421px;font-size:35px;transform:translate(-0.64px,-0.99px) scale(0.9355,1.0269);">ス</div>
<div class="t k3" id="g29" style="left:1318px;top:419px;font-size:35px;transform:translate(-14.98px,3.34px) scale(1.2563,0.8879);">ト</div>
<div class="t k3" id="g30" style="left:1346px;top:421px;font-size:35px;transform:translate(-4.68px,-0.30px) scale(1.0960,1.0280);">ロ</div>
<div class="t k3" id="g31" style="left:1382px;top:420px;font-size:35px;transform:translate(-1.67px,1.12px) scale(0.9355,0.9759);">ン</div>
<div class="t k3" id="g32" style="left:1415px;top:417px;font-size:35px;transform:translate(-0.81px,5.47px) scale(0.9056,0.9314);">グ</div>
<div class="t kl" id="lat0" style="left:545px;top:34px;font-size:58px;transform:translate(-0.85px,12.51px) scale(0.9471,0.7444);">-</div>
<div class="t kl" id="lat1" style="left:566px;top:34px;font-size:58px;transform:translate(-0.62px,2.00px) scale(0.9206,1.0381);">Z</div>
<div class="t kl" id="lat2" style="left:600px;top:34px;font-size:58px;transform:translate(-0.74px,2.00px) scale(0.9450,1.0381);">A</div>
<div class="t kl" id="lat3" style="left:642px;top:34px;font-size:58px;transform:translate(-2.32px,2.00px) scale(0.9417,1.0381);">N</div>
<div class="t kl" id="lat4" style="left:687px;top:34px;font-size:58px;-webkit-text-stroke-width:0.3px;transform:translate(-6.23px,-1.82px) scale(1.2667,1.1575);">!</div>
<div class="t kl" id="lat5" style="left:708px;top:34px;font-size:58px;-webkit-text-stroke-width:0.3px;transform:translate(-5.57px,-1.82px) scale(1.2333,1.1575);">!</div>
<div class="t kl" id="lat6" style="left:727px;top:34px;font-size:58px;transform:translate(-0.16px,12.51px) scale(0.9647,0.7444);">-</div>
<div class="t kl" id="lat7" style="left:747px;top:34px;font-size:58px;transform:translate(0.60px,2.00px) scale(0.9758,1.0381);">4</div>
<div class="lbl" id="l1" style="left:102px;top:650px;font-size:73.7px;transform:translate(-0.77px,2.87px) scale(0.9684,0.9731);">TypeS</div>
<div class="lbl" id="l2" style="left:450px;top:650px;font-size:73.7px;transform:translate(-0.37px,1.50px) scale(0.9694,0.9909);">TypeM</div>
<div class="lbl" id="l3" style="left:775px;top:650px;font-size:73.7px;transform:translate(-0.47px,1.38px) scale(0.9702,0.9924);">TypeMH</div>
<div class="lbl" id="l4" style="left:1133px;top:650px;font-size:73.7px;transform:translate(-0.57px,1.38px) scale(0.9734,0.9924);">TypeHH</div>
</body></html>
